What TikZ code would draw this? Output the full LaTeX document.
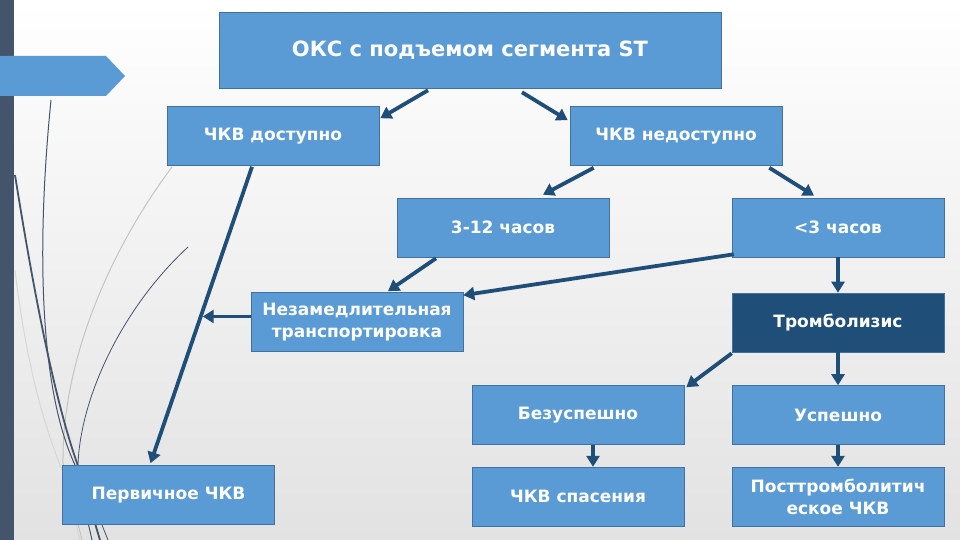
\documentclass[tikz,border=0pt]{standalone}
\usepackage{fontspec}
\setmainfont{DejaVu Sans}
\usepackage{tikz}
\usetikzlibrary{arrows.meta,positioning,calc}
\definecolor{boxblue}{HTML}{5B9BD5}
\definecolor{boxedge}{HTML}{41719C}
\definecolor{boxdark}{HTML}{1F4E79}
\definecolor{arrowblue}{HTML}{1F4E79}
\definecolor{sidebar}{HTML}{44546A}
\definecolor{wispgrey}{HTML}{C4C4C4}
\definecolor{bggrey}{HTML}{E2E2E2}

\begin{document}
\begin{tikzpicture}[x=1pt, y=-1pt,
  box/.style={rectangle, draw=boxedge, fill=boxblue, text=white, line width=0.6pt,
    font=\bfseries\fontsize{17}{22}\selectfont, align=center,
    minimum width=212pt, minimum height=59pt},
  arr/.style={draw=arrowblue, line width=3.8pt, -{Triangle[length=11pt,width=13pt]}}]
\useasboundingbox (0,0) rectangle (960,540);
\fill[top color=white, bottom color=bggrey] (0,0) rectangle (960,540);

% wisps on the left
\draw[wispgrey!70, line width=1pt] (15,270) .. controls (28,380) and (50,440) .. (62,470) -- (80,540);
\draw[wispgrey, line width=1pt] (172,167) .. controls (110,250) and (62,360) .. (63,463) -- (82,540);
\draw[sidebar, line width=1pt] (51,100) .. controls (36,250) and (40,390) .. (75,465) -- (92,540);
\draw[sidebar, line width=1.8pt] (15,175) .. controls (35,300) and (55,400) .. (77,463) -- (100,540);
\draw[sidebar, line width=0.8pt] (188,247) .. controls (120,310) and (80,400) .. (78,465) -- (108,540);
\fill[sidebar] (0,0) rectangle (14,540);
\fill[boxblue] (0,56) -- (106,56) -- (125,76) -- (106,96) -- (0,96) -- cycle;

% boxes
\node[box, minimum width=502pt, minimum height=76pt, font=\bfseries\fontsize{21}{24}\selectfont] (acs) at (470,50) {ОКС с подъемом сегмента ST};
\node[box] (pcidost) at (273,136) {ЧКВ доступно};
\node[box] (pcinedost) at (676,136) {ЧКВ недоступно};
\node[box] (late) at (503,227.5) {3-12 часов};
\node[box] (early) at (838,227.5) {<3 часов};
\node[box] (transfer) at (357,322) {Незамедлительная\\транспортировка};
\node[box, fill=boxdark] (lysis) at (838,322.5) {Тромболизис};
\node[box] (fail) at (578,415) {Безуспешно};
\node[box] (success) at (838,415) {Успешно};
\node[box, below=22pt of fail] (rescue) {ЧКВ спасения};
\node[box, below=22pt of success] (postlysis) {Посттромболитич\\еское ЧКВ};
\node[box] (primary) at (168.5,495) {Первичное ЧКВ};

% arrows
\coordinate (d1) at ($(pcidost.south)+(-21,1)$);
\coordinate (p1) at ($(primary.north)+(-18,-2)$);
\coordinate (jn) at ($(d1)!0.505!(p1)$);
\draw[arr] ($(acs.south)+(-42,2)$) -- ($(pcidost.north east)+(1,12)$);
\draw[arr] ($(acs.south)+(52,4)$) -- ($(pcinedost.north west)+(-2,14)$);
\draw[arr] (d1) -- (p1);
\draw[arr] ($(pcinedost.south west)+(24,2)$) -- ($(late.north)+(40,-3)$);
\draw[arr] ($(pcinedost.south east)+(-13,2)$) -- ($(early.north)+(-24,-2)$);
\draw[arr] ($(late.south)+(-67,1)$) -- ($(transfer.north)+(31,-1)$);
\draw[arr] ($(early.south west)+(2,-3)$) -- ($(transfer.north east)+(0,3)$);
\draw[arr] (transfer.west |- jn) -- ($(jn)+(2,0)$);
\draw[arr] (early) -- (lysis);
\draw[arr] ($(lysis.south west)+(0,1)$) -- ($(fail.north east)+(2,2)$);
\draw[arr] (lysis) -- (success);
\draw[arr] ($(fail.south)+(15,0)$) -- ($(rescue.north)+(15,0)$);
\draw[arr] (success) -- (postlysis);
\end{tikzpicture}
\end{document}
